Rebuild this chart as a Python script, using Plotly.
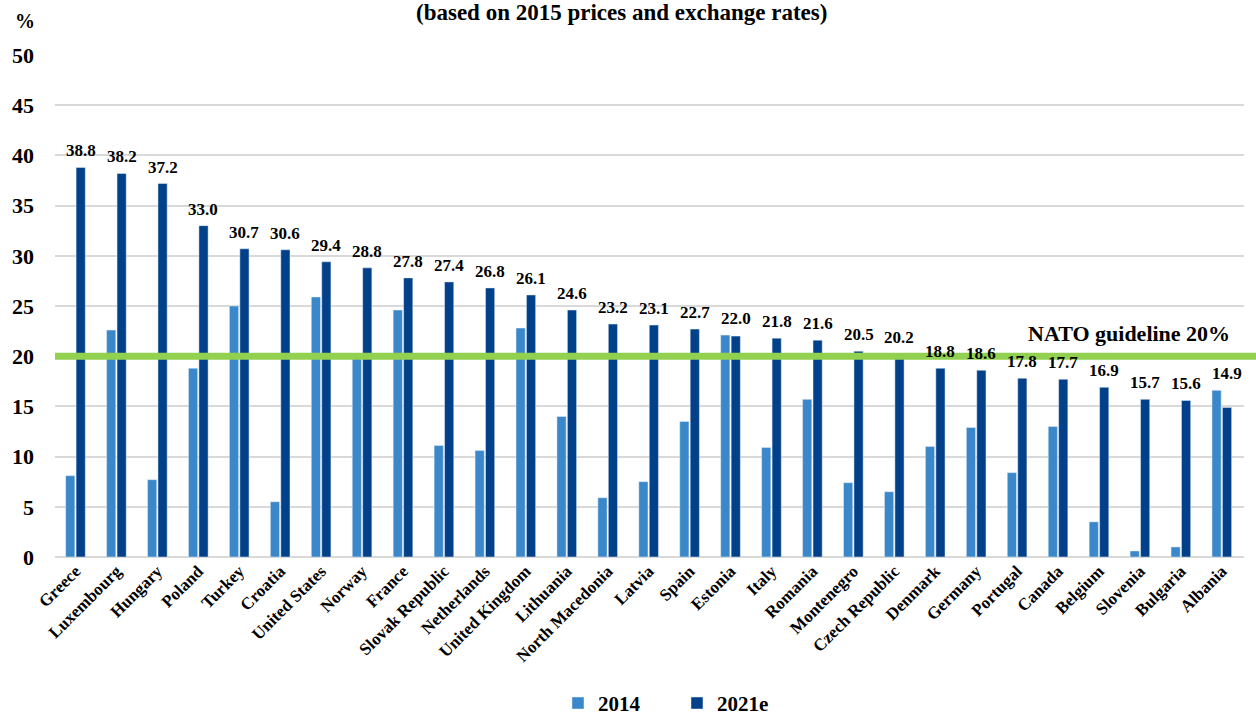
import plotly.graph_objects as go

countries = [
    "Greece", "Luxembourg", "Hungary", "Poland", "Turkey", "Croatia",
    "United States", "Norway", "France", "Slovak Republic", "Netherlands",
    "United Kingdom", "Lithuania", "North Macedonia", "Latvia", "Spain",
    "Estonia", "Italy", "Romania", "Montenegro", "Czech Republic", "Denmark",
    "Germany", "Portugal", "Canada", "Belgium", "Slovenia", "Bulgaria", "Albania",
]
share_2014 = [
    8.1, 22.6, 7.7, 18.8, 25.0, 5.5, 25.9, 20.1, 24.6, 11.1, 10.6, 22.8, 14.0,
    5.9, 7.5, 13.5, 22.1, 10.9, 15.7, 7.4, 6.5, 11.0, 12.9, 8.4, 13.0, 3.5,
    0.6, 1.0, 16.6,
]
share_2021e = [
    38.8, 38.2, 37.2, 33.0, 30.7, 30.6, 29.4, 28.8, 27.8, 27.4, 26.8, 26.1,
    24.6, 23.2, 23.1, 22.7, 22.0, 21.8, 21.6, 20.5, 20.2, 18.8, 18.6, 17.8,
    17.7, 16.9, 15.7, 15.6, 14.9,
]
y_ticks = [0, 5, 10, 15, 20, 25, 30, 35, 40, 45, 50]
nato_guideline = 20

FONT = "Liberation Serif"
LIGHT = "#3a88c9"
DARK = "#024089"

fig = go.Figure()
fig.add_trace(go.Bar(x=countries, y=share_2014, name="2014", marker_color=LIGHT))
fig.add_trace(go.Bar(x=countries, y=share_2021e, name="2021e", marker_color=DARK))

# guideline across the plot, running slightly past the right edge
fig.add_shape(
    type="line", xref="paper", yref="y", x0=0, x1=1.0101,
    y0=nato_guideline, y1=nato_guideline,
    line=dict(color="#92d050", width=7), layer="above",
)
fig.add_annotation(
    xref="paper", yref="y", x=0.903, xanchor="center", y=nato_guideline,
    yanchor="bottom", yshift=8, text="NATO guideline 20%", showarrow=False,
    font=dict(size=22, color="black"),
)

# value labels over the 2021e bars (lifted over the 2014 bar when it is taller)
for c, a, b in zip(countries, share_2014, share_2021e):
    fig.add_annotation(
        x=c, y=max(a, b), yanchor="bottom", xshift=5.2, yshift=5,
        text=f"{b:.1f}", showarrow=False, font=dict(size=17, color="black"),
    )

fig.add_annotation(
    xref="paper", yref="paper", x=-0.025, y=1.068, xanchor="center",
    yanchor="middle", text="%", showarrow=False, font=dict(size=20, color="black"),
)

fig.update_layout(
    width=1256,
    height=717,
    font=dict(family=FONT, color="black", weight="bold"),
    title=dict(
        text="(based on 2015 prices and exchange rates)",
        xref="container", x=0.495, xanchor="center",
        yref="container", y=0.983, yanchor="middle",
        font=dict(size=23, color="black"),
    ),
    barmode="group",
    bargap=0.49,
    bargroupgap=0.12,
    plot_bgcolor="white",
    paper_bgcolor="white",
    margin=dict(l=52, r=12, t=55, b=160),
    legend=dict(
        orientation="h", xref="container", yref="container",
        x=0.539, xanchor="center", y=0.019, yanchor="middle",
        font=dict(size=21), entrywidth=74, itemwidth=30,
    ),
)

fig.update_yaxes(
    range=[0, 50], tickvals=y_ticks, showgrid=True, gridcolor="#d9d9d9",
    gridwidth=2, zeroline=True, zerolinecolor="#d9d9d9", zerolinewidth=2,
    tickfont=dict(size=22), ticklabelstandoff=20,
)
fig.update_xaxes(tickangle=-45, tickfont=dict(size=17), showline=False)

fig.write_html(
    "out.html",
    config={"displayModeBar": False},
    post_script="document.body.style.margin='0';",
)
